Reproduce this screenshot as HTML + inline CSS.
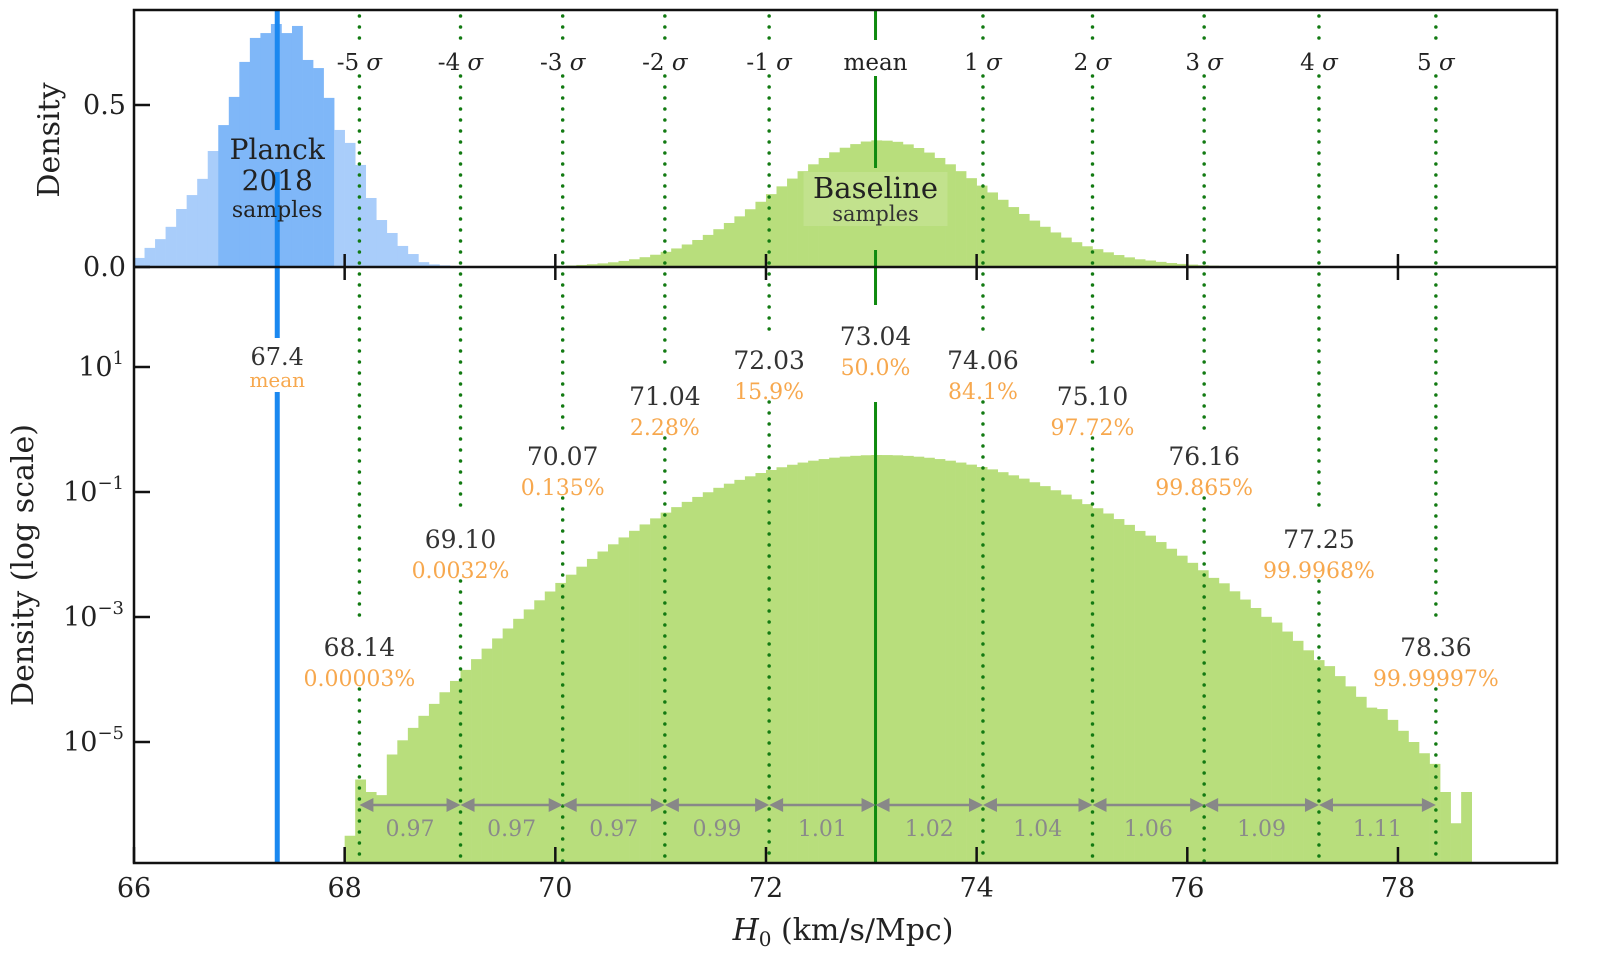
<!DOCTYPE html>
<html><head><meta charset="utf-8">
<style>
html,body{margin:0;padding:0;background:#fff;}
svg{display:block;}
text{font-family:"DejaVu Serif","Liberation Serif",serif;}
</style></head>
<body>
<svg id="chart" width="1600" height="974" viewBox="0 0 1600 974" xmlns="http://www.w3.org/2000/svg">
<g id="planck"></g>
<g id="baseTop"></g>
<g id="baseBot"></g>
<g id="lines"></g>
<g id="annot"></g>
<g id="axes"></g>
</svg>
<script>
// ---- data ----
const planckStart = 66.0, planckBin = 0.1;
const planckDensity = [0.028,0.059,0.086,0.124,0.179,0.222,0.272,0.358,0.438,0.525,0.633,0.707,0.722,0.750,0.722,0.744,0.639,0.614,0.522,0.423,0.383,0.315,0.213,0.145,0.105,0.065,0.040,0.015,0.008,0.005,0.003,0.002,0.001];
const planckMean = 67.36;
const baseStart = 68.0, baseBin = 0.1;
const baseLogDensity = [-6.5,-5.6,-5.8,-5.85,-5.2,-4.973,-4.774,-4.581,-4.390,-4.204,-4.023,-3.846,-3.674,-3.506,-3.343,-3.184,-3.029,-2.879,-2.733,-2.592,-2.455,-2.323,-2.195,-2.071,-1.952,-1.837,-1.727,-1.621,-1.519,-1.422,-1.330,-1.242,-1.158,-1.079,-1.004,-0.933,-0.867,-0.806,-0.749,-0.696,-0.648,-0.604,-0.564,-0.529,-0.499,-0.473,-0.451,-0.434,-0.421,-0.412,-0.408,-0.409,-0.413,-0.422,-0.435,-0.452,-0.473,-0.499,-0.529,-0.562,-0.600,-0.638,-0.683,-0.733,-0.786,-0.844,-0.906,-0.972,-1.042,-1.116,-1.194,-1.260,-1.344,-1.433,-1.526,-1.623,-1.698,-1.801,-1.908,-2.019,-2.133,-2.252,-2.374,-2.461,-2.589,-2.721,-2.856,-2.997,-3.089,-3.233,-3.381,-3.533,-3.690,-3.786,-3.946,-4.110,-4.277,-4.450,-4.473,-4.646,-4.821,-5.0,-5.18,-5.35,-5.8,-6.3,-5.8];
const sigmaNames = ["-5 σ","-4 σ","-3 σ","-2 σ","-1 σ","mean","1 σ","2 σ","3 σ","4 σ","5 σ"];
const sigmaValues = [68.14,69.10,70.07,71.04,72.03,73.04,74.06,75.10,76.16,77.25,78.36];
const sigmaLabels = ["68.14","69.10","70.07","71.04","72.03","73.04","74.06","75.10","76.16","77.25","78.36"];
const sigmaPercents = ["0.00003%","0.0032%","0.135%","2.28%","15.9%","50.0%","84.1%","97.72%","99.865%","99.9968%","99.99997%"];
const labelRows = [647,539,456,396,360,336,360,396,456,539,647];
const spacingLabels = ["0.97","0.97","0.97","0.99","1.01","1.02","1.04","1.06","1.09","1.11"];
const xTicks = [66,68,70,72,74,76,78];
const topYTicks = [0.0,0.5];
const logYTicks = [1,-1,-3,-5];

// ---- scales ----
const L=134,R=1557,T=10,MID=267,B=863;
const X = v => L + (v-66)*105.33;
const Ytop = d => MID - d*324;
const Ylog = lg => 367 - (lg-1)*62.5;
const NS="http://www.w3.org/2000/svg";
function mk(tag, parent, attrs, txt){
  const e=document.createElementNS(NS,tag);
  for(const k in attrs) e.setAttribute(k,attrs[k]);
  if(txt!==undefined) e.textContent=txt;
  document.getElementById(parent).appendChild(e);
  return e;
}

// planck bars
planckDensity.forEach((d,i)=>{
  const x0=planckStart+i*planckBin, x1=x0+planckBin;
  const dark = (x0>=66.8 && x1<=67.95);
  const r=mk('rect','planck',{x:X(x0),y:Ytop(d),width:X(x1)-X(x0)+0.3,height:MID-Ytop(d),fill:dark?'#7fb7f8':'#a9cdfa'});
  
  
});
// baseline bars
baseLogDensity.forEach((lg,i)=>{
  const x0=baseStart+i*baseBin, x1=x0+baseBin;
  const d=Math.pow(10,lg);
  const h=MID-Ytop(d);
  if(h>0.3){
    const r=mk('rect','baseTop',{x:X(x0),y:Ytop(d),width:X(x1)-X(x0)+0.3,height:h,fill:'#b8de7c'});
    
    
  }
  const yb=Math.max(Ylog(lg),MID);
  const r2=mk('rect','baseBot',{x:X(x0),y:yb,width:X(x1)-X(x0)+0.3,height:B-yb,fill:'#b8de7c'});
  
  
});

// planck mean line
[[T,130],[172,MID],[MID,338],[392,B]].forEach(s=>{
  const l=mk('line','lines',{x1:X(planckMean),x2:X(planckMean),y1:s[0],y2:s[1],stroke:'#1a88f0','stroke-width':5});
  
  
});
// planck labels
[["Planck",150,28],["2018",181,28],["samples",208,22]].forEach(t=>{
  const e=mk('text','annot',{x:X(planckMean),y:t[1]+9,'text-anchor':'middle','font-size':t[2],fill:'#222'},t[0]);
  
  
});
let e=mk('text','annot',{x:X(planckMean),y:365,'text-anchor':'middle','font-size':24,fill:'#333'},'67.4');


e=mk('text','annot',{x:X(planckMean),y:387,'text-anchor':'middle','font-size':20,fill:'#f7a84e'},'mean');



// baseline label box
e=mk('rect','annot',{x:X(73.04)-72,y:172,width:144,height:54,fill:'#c8e59a',opacity:0.6});


e=mk('text','annot',{x:X(73.04),y:198,'text-anchor':'middle','font-size':29,fill:'#222'},'Baseline');


e=mk('text','annot',{x:X(73.04),y:221,'text-anchor':'middle','font-size':21,fill:'#333'},'samples');



// sigma lines & labels
sigmaValues.forEach((v,i)=>{
  const x=X(v), isMean=(i===5);
  const top=labelRows[i]-24, bot=labelRows[i]+42;
  const segs = isMean ? [[T,40],[76,168],[250,305],[402,B]] : [[T+6,40],[76,Math.min(top,MID+400)],[bot,B]];
  segs.forEach(s=>{
    const a={x1:x,x2:x,y1:s[0],y2:s[1]};
    if(isMean){a.stroke='#0f8a0f';a['stroke-width']=3;}
    else{a.stroke='#127a12';a['stroke-width']=3.5;a['stroke-dasharray']='0 11';a['stroke-linecap']='round';}
    const l=mk('line','lines',a);
    
    
  });
  const n=sigmaNames[i];
  const t=mk('text','annot',{x:x,y:70,'text-anchor':'middle','font-size':23,fill:'#222'});
  
  
  if(n==='mean'){t.textContent='mean';}
  else{
    const p=n.split(' ');
    const s1=document.createElementNS(NS,'tspan');s1.textContent=p[0]+' ';t.appendChild(s1);
    const s2=document.createElementNS(NS,'tspan');s2.textContent='σ';s2.setAttribute('font-style','italic');t.appendChild(s2);
  }
  const vt=mk('text','annot',{x:x,y:labelRows[i]+9,'text-anchor':'middle','font-size':25,fill:'#333'},sigmaLabels[i]);
  
  
  const pt=mk('text','annot',{x:x,y:labelRows[i]+39,'text-anchor':'middle','font-size':22,fill:'#f7a84e'},sigmaPercents[i]);
  
  
});

// spacing arrows
spacingLabels.forEach((s,i)=>{
  const x0=X(sigmaValues[i]), x1=X(sigmaValues[i+1]), y=805;
  const l=mk('line','annot',{x1:x0+12,x2:x1-12,y1:y,y2:y,stroke:'#888','stroke-width':2.5});
  
  
  const h1=mk('polygon','annot',{points:`${x0},${y} ${x0+14},${y-7} ${x0+14},${y+7}`,fill:'#888'});
  
  
  const h2=mk('polygon','annot',{points:`${x1},${y} ${x1-14},${y-7} ${x1-14},${y+7}`,fill:'#888'});
  
  
  const t=mk('text','annot',{x:(x0+x1)/2,y:836,'text-anchor':'middle','font-size':22,fill:'#8a8a8a'},s);
  
  
});

// axes frame
e=mk('rect','axes',{x:L,y:T,width:R-L,height:B-T,fill:'none',stroke:'#111','stroke-width':2.5});


e=mk('line','axes',{x1:L,x2:R,y1:MID,y2:MID,stroke:'#111','stroke-width':2.5});


xTicks.forEach(v=>{
  const x=X(v);
  let t=mk('line','axes',{x1:x,x2:x,y1:B,y2:B-16,stroke:'#111','stroke-width':2.5});
  
  
  if(v>66){
    t=mk('line','axes',{x1:x,x2:x,y1:MID-13,y2:MID+13,stroke:'#111','stroke-width':2.5});
    
    
  }
  const lb=mk('text','axes',{x:x,y:897,'text-anchor':'middle','font-size':27,fill:'#222'},String(v));
  
  
});
topYTicks.forEach(v=>{
  const y=Ytop(v);
  const t=mk('line','axes',{x1:L,x2:L+16,y1:y,y2:y,stroke:'#111','stroke-width':2.5});
  
  
  const lb=mk('text','axes',{x:126,y:y+9,'text-anchor':'end','font-size':27,fill:'#222'},v.toFixed(1));
  
  
});
logYTicks.forEach(v=>{
  const y=Ylog(v);
  const t=mk('line','axes',{x1:L,x2:L+16,y1:y,y2:y,stroke:'#111','stroke-width':2.5});
  
  
  const lb=mk('text','axes',{x:124,y:y+9,'text-anchor':'end','font-size':27,fill:'#222'});
  
  
  const a=document.createElementNS(NS,'tspan');a.textContent='10';lb.appendChild(a);
  const b=document.createElementNS(NS,'tspan');b.textContent=(v<0?'−':'')+Math.abs(v);b.setAttribute('font-size','18');b.setAttribute('dy','-12');lb.appendChild(b);
});
e=mk('text','axes',{x:0,y:0,'text-anchor':'middle','font-size':30,fill:'#222',transform:'translate(59,140) rotate(-90)'},'Density');


e=mk('text','axes',{x:0,y:0,'text-anchor':'middle','font-size':30,fill:'#222',transform:'translate(33,565) rotate(-90)'},'Density (log scale)');


e=mk('text','axes',{x:843,y:940,'text-anchor':'middle','font-size':30,fill:'#222'});


(function(){
  const a=document.createElementNS(NS,'tspan');a.textContent='H';a.setAttribute('font-style','italic');e.appendChild(a);
  const b=document.createElementNS(NS,'tspan');b.textContent='0';b.setAttribute('font-size','20');b.setAttribute('dy','6');e.appendChild(b);
  const c=document.createElementNS(NS,'tspan');c.textContent=' (km/s/Mpc)';c.setAttribute('dy','-6');e.appendChild(c);
})();
</script>
</body></html>
